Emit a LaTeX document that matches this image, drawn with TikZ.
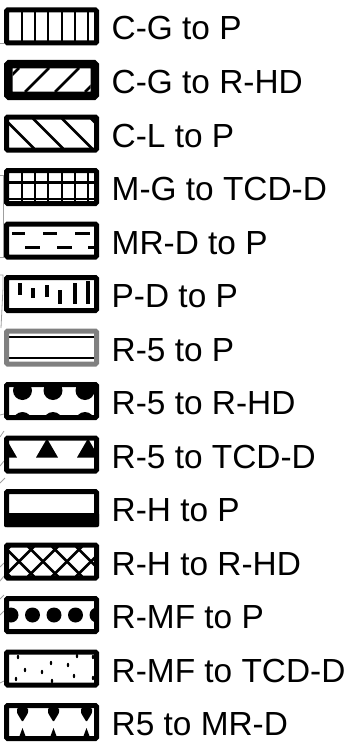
\documentclass[tikz,border=0pt]{standalone}
\usepackage{fontspec}
\setmainfont{Liberation Sans}
\usepackage{tikz}

\begin{document}
\begin{tikzpicture}[x=1pt, y=-1pt,
	swatch/.style={draw=black, line width=5pt, rounded corners=1.2pt},
	hatch/.style={line width=2.5pt},
	leader/.style={draw=gray!75, line width=0.8pt},
	lbl/.style={anchor=base west, inner sep=0pt, font=\fontsize{33.4}{40}\selectfont}]
	\useasboundingbox (0,0) rectangle (350,752);

	% leftover leader lines at the left edge
	\draw[leader] (0,43) -- (4,43);
	\draw[leader] (0,175) -- (3,175) -- (3,257) -- (0,257);
	\draw[leader] (0,275) -- (3,275) -- (3,288) -- (1,328);
	\draw[leader] (0,415) -- (4,414);
	\draw[leader] (0,437) -- (4,431);
	\draw[leader] (0,466) -- (4,461);
	\draw[leader] (0,483) -- (5,478);
	\draw[leader] (0,567) -- (4,563);
	\draw[leader] (0,581) -- (4,576);
	\draw[leader] (0,599) -- (4,595);
	\draw[leader] (0,615) -- (4,611);
	\draw[leader] (0,683) -- (4,681);

	% C-G to P
	\begin{scope}[shift={(0,26.5)}]
		\begin{scope}
			\clip (9,-14) rectangle (94,14);
			\draw[hatch] (22,-15) -- (22,15) (35,-15) -- (35,15) (48,-15) -- (48,15)
				(62,-15) -- (62,15) (75,-15) -- (75,15) (88,-15) -- (88,15);
		\end{scope}
		\draw[swatch] (6.5,-16.5) rectangle (96.5,16.5);
	\end{scope}

	% C-G to R-HD
	\begin{scope}[shift={(0,80)}]
		\begin{scope}
			\clip (12.5,-11.5) rectangle (90.5,11.5);
			\draw[hatch] (-5,12) -- (19,-12) (25,12) -- (49,-12) (55,12) -- (79,-12) (85,12) -- (109,-12);
		\end{scope}
		\draw[swatch, line width=8.5pt] (8.25,-15.75) rectangle (94.75,15.75);
	\end{scope}

	% C-L to P
	\begin{scope}[shift={(0,133.5)}]
		\begin{scope}
			\clip (9,-14) rectangle (94,14);
			\draw[hatch] (-25,-15) -- (5,15) (4,-15) -- (34,15) (33,-15) -- (63,15)
				(62,-15) -- (92,15) (91,-15) -- (121,15);
		\end{scope}
		\draw[swatch] (6.5,-16.5) rectangle (96.5,16.5);
	\end{scope}

	% M-G to TCD-D
	\begin{scope}[shift={(0,187)}]
		\begin{scope}
			\clip (9,-14) rectangle (94,14);
			\draw[hatch] (22,-15) -- (22,15) (35,-15) -- (35,15) (48,-15) -- (48,15)
				(62,-15) -- (62,15) (75,-15) -- (75,15) (88,-15) -- (88,15);
			\draw[hatch] (9,-4.5) -- (94,-4.5) (9,12) -- (94,12);
		\end{scope}
		\draw[swatch] (6.5,-16.5) rectangle (96.5,16.5);
	\end{scope}

	% MR-D to P
	\begin{scope}[shift={(0,240.5)}]
		\begin{scope}
			\clip (9,-14) rectangle (94,14);
			\draw[hatch] (12,-7) -- (25,-7) (43,-7) -- (57,-7) (75,-7) -- (90,-7);
			\draw[hatch] (25,7) -- (40,7) (57,7) -- (72,7) (88,7) -- (96,7);
		\end{scope}
		\draw[swatch] (6.5,-16.5) rectangle (96.5,16.5);
	\end{scope}

	% P-D to P
	\begin{scope}[shift={(0,294)}]
		\begin{scope}
			\clip (9,-14) rectangle (94,14);
			\draw[hatch, line width=3.2pt] (20,-11) -- (20,1) (33,-6) -- (33,4) (47,-9) -- (47,3)
				(60,-4) -- (60,10) (75,-11) -- (75,10) (88,-13) -- (88,10);
		\end{scope}
		\draw[swatch] (6.5,-16.5) rectangle (96.5,16.5);
	\end{scope}

	% R-5 to P
	\begin{scope}[shift={(0,347.5)}]
		\draw[line width=2pt] (9,-11) -- (94,-11) (9,10.5) -- (94,10.5);
		\draw[swatch, draw=gray] (6.5,-16.5) rectangle (96.5,16.5);
	\end{scope}

	% R-5 to R-HD
	\begin{scope}[shift={(0,401)}]
		\begin{scope}
			\clip (9,-14) rectangle (94,14);
			\fill (22.5,-10.5) circle(9.5) (53,-10.5) circle(9.5) (85,-10.5) circle(9.5);
			\fill (22.5,20.5) circle(9.5) (53,20.5) circle(9.5) (85,20.5) circle(9.5);
		\end{scope}
		\draw[swatch] (6.5,-16.5) rectangle (96.5,16.5);
	\end{scope}

	% R-5 to TCD-D
	\begin{scope}[shift={(0,454.5)}]
		\begin{scope}
			\clip (9,-14) rectangle (94,14);
			\fill (6,-16) -- (17,3) -- (-5,3) -- cycle;
			\fill (47,-16) -- (58,3) -- (36,3) -- cycle;
			\fill (88,-16) -- (99,3) -- (77,3) -- cycle;
		\end{scope}
		\draw[swatch] (6.5,-16.5) rectangle (96.5,16.5);
	\end{scope}

	% R-H to P
	\begin{scope}[shift={(0,508)}]
		\fill[rounded corners=1.2pt] (4,5) rectangle (99,19);
		\draw[swatch] (6.5,-16.5) rectangle (96.5,16.5);
	\end{scope}

	% R-H to R-HD
	\begin{scope}[shift={(0,561.5)}]
		\begin{scope}
			\clip (9,-14) rectangle (94,14);
			\draw[hatch] (-20,15) -- (10,-15) (4,15) -- (34,-15) (28,15) -- (58,-15)
				(52,15) -- (82,-15) (76,15) -- (106,-15);
			\draw[hatch] (-20,-15) -- (10,15) (4,-15) -- (34,15) (28,-15) -- (58,15)
				(52,-15) -- (82,15) (76,-15) -- (106,15);
		\end{scope}
		\draw[swatch] (6.5,-16.5) rectangle (96.5,16.5);
	\end{scope}

	% R-MF to P
	\begin{scope}[shift={(0,615)}]
		\begin{scope}
			\clip (9,-14) rectangle (94,14);
			\fill (11,0) circle(7.5) (32.5,0) circle(7.5) (54,0) circle(7.5)
				(75.5,0) circle(7.5) (97,0) circle(7.5);
		\end{scope}
		\draw[swatch] (6.5,-16.5) rectangle (96.5,16.5);
	\end{scope}

	% R-MF to TCD-D
	\begin{scope}[shift={(0,668.5)}]
		\fill (18,-11.5) ellipse(1.2 and 2.2) (51,-5.5) ellipse(1.2 and 2.2)
			(77,-12.5) ellipse(1.2 and 2.2) (68,-3.5) ellipse(1.2 and 2.2)
			(25,1.5) ellipse(1.2 and 2.2) (42,3.5) ellipse(1.2 and 2.2)
			(16,10.5) ellipse(1.2 and 2.2) (74,7.5) ellipse(1.2 and 2.2)
			(52,12.5) ellipse(1.2 and 2.2) (93,9.5) ellipse(1.2 and 2.2)
			(93,-11.5) ellipse(1.2 and 2.2);
		\draw[swatch] (6.5,-16.5) rectangle (96.5,16.5);
	\end{scope}

	% R5 to MR-D
	\begin{scope}[shift={(0,722)}]
		\fill[rounded corners=1pt] (17,-14) -- (28,-14) -- (28,-9) -- (22.5,0) -- (17,-9) -- cycle;
		\fill[rounded corners=1pt] (48,-14) -- (59,-14) -- (59,-9) -- (53.5,0) -- (48,-9) -- cycle;
		\fill[rounded corners=1pt] (81,-14) -- (92,-14) -- (92,-9) -- (86.5,0) -- (81,-9) -- cycle;
		\fill (19.5,14) -- (22.5,6) -- (25.5,14) -- cycle;
		\fill (50.5,14) -- (53.5,6) -- (56.5,14) -- cycle;
		\fill (83.5,14) -- (86.5,6) -- (89.5,14) -- cycle;
		\draw[swatch] (6.5,-16.5) rectangle (96.5,16.5);
	\end{scope}

	\node[lbl] (cg-p) at (111.5,40) {C-G to P};
	\node[lbl] (cg-rhd) at (111.5,93.5) {C-G to R-HD};
	\node[lbl] (cl-p) at (111.5,147) {C-L to P};
	\node[lbl] (mg-tcdd) at (111.5,200.5) {M-G to TCD-D};
	\node[lbl] (mrd-p) at (111.5,254) {MR-D to P};
	\node[lbl] (pd-p) at (111.5,307.5) {P-D to P};
	\node[lbl] (r5-p) at (111.5,361) {R-5 to P};
	\node[lbl] (r5-rhd) at (111.5,414.5) {R-5 to R-HD};
	\node[lbl] (r5-tcdd) at (111.5,468) {R-5 to TCD-D};
	\node[lbl] (rh-p) at (111.5,521.5) {R-H to P};
	\node[lbl] (rh-rhd) at (111.5,575) {R-H to R-HD};
	\node[lbl] (rmf-p) at (111.5,628.5) {R-MF to P};
	\node[lbl] (rmf-tcdd) at (111.5,682) {R-MF to TCD-D};
	\node[lbl] (r5-mrd) at (111.5,735.5) {R5 to MR-D};
\end{tikzpicture}
\end{document}
